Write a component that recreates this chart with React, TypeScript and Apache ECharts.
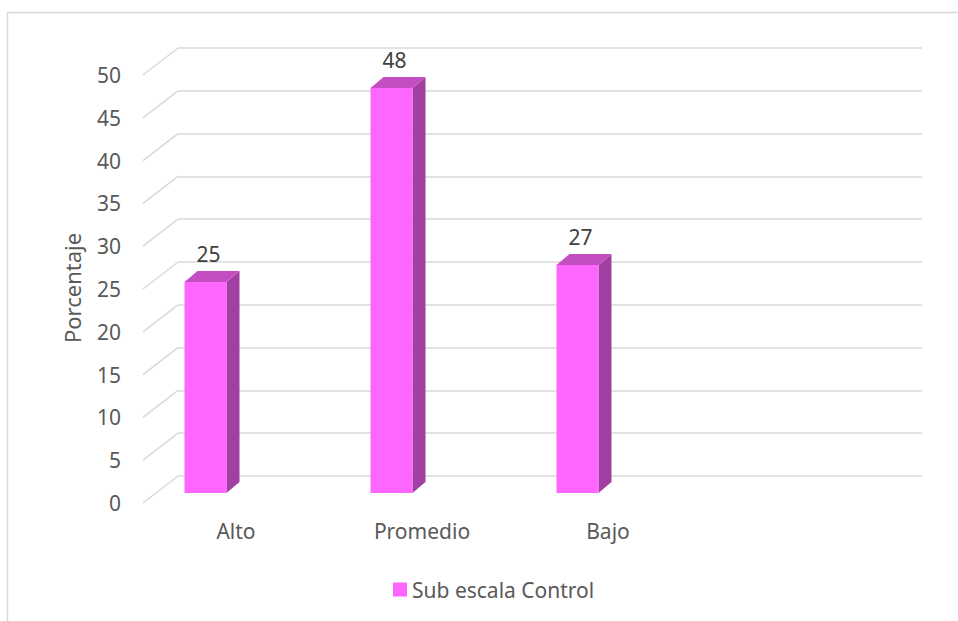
import React, { useEffect, useRef } from "react";
import * as echarts from "echarts";

const categories = ["Alto", "Promedio", "Bajo", ""];
const values = [25, 48, 27];
const yTicks = [0, 5, 10, 15, 20, 25, 30, 35, 40, 45, 50];
const seriesName = "Sub escala Control";
const axisTitle = "Porcentaje";

const FONT = "'Noto Sans', sans-serif";
const TXT = "#595959";
const GRIDC = "#d9d9d9";
const DX = 35; // perspective offset back -> front
const DY = 27;
const BAR_W = 42;
const DEPTH_X = 13;
const DEPTH_Y = 11;
const FS = 21;

export default function App() {
  const ref = useRef<HTMLDivElement>(null);
  useEffect(() => {
    if (!ref.current) return;
    const chart = echarts.init(ref.current, null, { renderer: "svg" });
    const option: any = {
      animation: false,
      backgroundColor: "#ffffff",
      textStyle: { fontFamily: FONT },
      grid: [
        // back wall
        { left: 178, right: 36, top: 48, bottom: 145 },
        // bar plane
        { left: 112.5, right: 101.5, top: 71, bottom: 128 },
        // front plane (labels)
        { left: 143, right: 71, top: 75, bottom: 118 },
      ],
      xAxis: [
        { gridIndex: 0, type: "category", data: categories, show: false },
        { gridIndex: 1, type: "category", data: categories, show: false },
        {
          gridIndex: 2,
          type: "category",
          data: categories,
          axisLine: { show: false },
          axisTick: { show: false },
          axisLabel: { color: TXT, fontSize: FS, fontFamily: FONT, margin: 17 },
        },
      ],
      yAxis: [
        {
          gridIndex: 0,
          type: "value",
          min: 0,
          max: 50,
          interval: 5,
          axisLine: { show: false },
          axisTick: { show: false },
          axisLabel: { show: false },
          splitLine: { lineStyle: { color: GRIDC, width: 1.5 } },
        },
        { gridIndex: 1, type: "value", min: 0, max: 50, interval: 5, show: false, splitLine: { show: false } },
        {
          gridIndex: 2,
          type: "value",
          min: 0,
          max: 50,
          interval: 5,
          axisLine: { show: false },
          axisTick: { show: false },
          splitLine: { show: false },
          axisLabel: { color: TXT, fontSize: FS, fontFamily: FONT, margin: 22 },
        },
      ],
      legend: {
        data: [seriesName],
        left: 388,
        top: 574,
        icon: "rect",
        itemWidth: 14,
        itemHeight: 14,
        textStyle: { color: TXT, fontSize: FS, fontFamily: FONT },
      },
      graphic: [
        {
          type: "rect",
          shape: { x: 7.5, y: 12.5, width: 1200, height: 900 },
          style: { fill: "none", stroke: GRIDC, lineWidth: 1.5 },
          silent: true,
        },
        {
          type: "text",
          x: 72,
          y: 288,
          rotation: Math.PI / 2,
          style: {
            text: axisTitle,
            fill: TXT,
            font: `22px ${FONT}`,
            textAlign: "center",
            textVerticalAlign: "middle",
          },
        },
      ],
      series: [
        {
          type: "custom",
          name: "floor-lines",
          xAxisIndex: 0,
          yAxisIndex: 0,
          silent: true,
          data: yTicks.map((t) => [0, t]),
          renderItem: (params: any, api: any) => {
            const cs = params.coordSys;
            const y = api.coord([0, api.value(1)])[1];
            const x = cs.x;
            return {
              type: "line",
              shape: { x1: x, y1: y, x2: x - DX, y2: y + DY },
              style: { stroke: GRIDC, lineWidth: 1.5 },
            };
          },
        },
        {
          type: "custom",
          name: seriesName,
          xAxisIndex: 1,
          yAxisIndex: 1,
          itemStyle: { color: "#FF66FF" },
          data: values.map((v, i) => [i, v]),
          renderItem: (params: any, api: any) => {
            const i = api.value(0);
            const v = api.value(1);
            const [cx, yt] = api.coord([i, v]);
            const y0 = api.coord([i, 0])[1];
            const xl = cx - BAR_W / 2;
            const xr = cx + BAR_W / 2;
            return {
              type: "group",
              children: [
                {
                  type: "polygon",
                  shape: {
                    points: [
                      [xr, yt],
                      [xr + DEPTH_X, yt - DEPTH_Y],
                      [xr + DEPTH_X, y0 - DEPTH_Y],
                      [xr, y0],
                    ],
                  },
                  style: { fill: "#A23FA2" },
                },
                {
                  type: "polygon",
                  shape: {
                    points: [
                      [xl, yt],
                      [xl + DEPTH_X, yt - DEPTH_Y],
                      [xr + DEPTH_X, yt - DEPTH_Y],
                      [xr, yt],
                    ],
                  },
                  style: { fill: "#C24EC2" },
                },
                {
                  type: "rect",
                  shape: { x: xl, y: yt, width: BAR_W, height: y0 - yt },
                  style: { fill: "#FF66FF" },
                },
                {
                  type: "text",
                  x: cx + 3,
                  y: yt - DEPTH_Y - 17,
                  style: {
                    text: String(v),
                    fill: "#404040",
                    font: `${FS}px ${FONT}`,
                    textAlign: "center",
                    textVerticalAlign: "middle",
                  },
                },
              ],
            };
          },
        },
      ],
    };
    chart.setOption(option);
    return () => chart.dispose();
  }, []);
  return (
    <div
      ref={ref}
      style={{ position: "fixed", left: 0, top: 0, width: 958, height: 621 }}
    />
  );
}
